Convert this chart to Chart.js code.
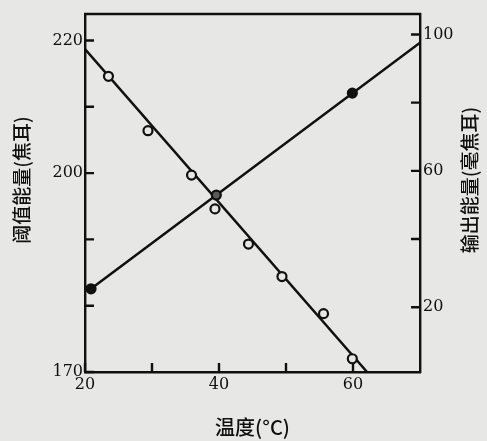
<!DOCTYPE html>
<html>
<head>
<meta charset="utf-8">
<script src="https://cdn.jsdelivr.net/npm/chart.js@4.4.1/dist/chart.umd.min.js"></script>
<style>
  html, body { margin: 0; padding: 0; background: #e7e7e5; }
  #wrap { width: 487px; height: 441px; }
</style>
</head>
<body>
<div id="wrap"><canvas id="chart" width="487" height="441"></canvas></div>
<script>
// 阈值能量 (left axis, 焦耳)
const thrTemps = [23.5, 29.4, 35.9, 39.4, 44.4, 49.4, 55.6, 59.9];
const thrValues = [214.6, 206.4, 199.7, 194.6, 189.3, 184.4, 178.8, 172.0];
// 输出能量 (right axis, 毫焦耳)
const outTemps = [20.9, 39.6, 59.9];
const outValues = [25.4, 52.9, 82.8];
// the two straight lines drawn through the points
const thrLineTemps = [20, 62.1];
const thrLineValues = [218.7, 170];
const outLineTemps = [20.9, 70];
const outLineValues = [25.4, 97.6];

const xTicks = [20, 30, 40, 50, 60];
const xLabels = [20, 40, 60];
const leftTicks = [170, 180, 190, 200, 210, 220];
const leftLabels = [170, 200, 220];
const rightTicks = [20, 40, 60, 80, 100];
const rightLabels = [20, 60, 100];

const ink = '#101010';
const paper = '#e7e7e5';
const numFont = { family: '"DejaVu Serif", serif', size: 16 };
const cjk = '"Noto Sans CJK SC", sans-serif';

const pts = (xs, ys) => xs.map((x, i) => ({ x: x, y: ys[i] }));

// ticks point inward, plus top edge of the frame and the axis titles
const framePlugin = {
  id: 'frame',
  afterDraw(chart) {
    const ctx = chart.ctx;
    const a = chart.chartArea;
    const len = 9;
    const { x, y, y1 } = chart.scales;
    ctx.save();
    ctx.strokeStyle = ink;
    ctx.lineWidth = 2.4;
    ctx.beginPath();
    xTicks.forEach(v => {
      const px = x.getPixelForValue(v);
      ctx.moveTo(px, a.bottom);
      ctx.lineTo(px, a.bottom - len);
    });
    leftTicks.forEach(v => {
      const py = y.getPixelForValue(v);
      ctx.moveTo(a.left, py);
      ctx.lineTo(a.left + len, py);
    });
    rightTicks.forEach(v => {
      const py = y1.getPixelForValue(v);
      ctx.moveTo(a.right, py);
      ctx.lineTo(a.right - len, py);
    });
    ctx.moveTo(a.left - 1, a.top);
    ctx.lineTo(a.right + 1, a.top);
    ctx.stroke();

    ctx.fillStyle = ink;
    ctx.textAlign = 'center';
    ctx.textBaseline = 'middle';
    ctx.font = '500 19px ' + cjk;
    ctx.save();
    ctx.translate(22, 180);
    ctx.rotate(-Math.PI / 2);
    ctx.fillText('阈值能量(焦耳)', 0, 0);
    ctx.restore();
    ctx.save();
    ctx.translate(470, 180);
    ctx.rotate(-Math.PI / 2);
    ctx.fillText('输出能量(毫焦耳)', 0, 0);
    ctx.restore();
    ctx.font = '500 20px ' + cjk;
    ctx.fillText('温度(°C)', (a.left + a.right) / 2, 427);
    ctx.restore();
  }
};

const axisBorder = { display: true, color: ink, width: 2.4 };

new Chart(document.getElementById('chart'), {
  type: 'scatter',
  data: {
    datasets: [
      {
        label: '阈值能量',
        data: pts(thrTemps, thrValues),
        yAxisID: 'y',
        pointRadius: 4.5,
        pointBorderWidth: 2.2,
        pointBorderColor: ink,
        pointBackgroundColor: paper
      },
      {
        label: '输出能量',
        data: pts(outTemps, outValues),
        yAxisID: 'y1',
        pointRadius: 4.5,
        pointBorderWidth: 2.2,
        pointBorderColor: ink,
        pointBackgroundColor: [ink, '#5a5a5a', ink]
      },
      {
        data: pts(thrLineTemps, thrLineValues),
        yAxisID: 'y',
        showLine: true,
        pointRadius: 0,
        borderColor: ink,
        borderWidth: 2.5
      },
      {
        data: pts(outLineTemps, outLineValues),
        yAxisID: 'y1',
        showLine: true,
        pointRadius: 0,
        borderColor: ink,
        borderWidth: 2.5
      }
    ]
  },
  options: {
    responsive: false,
    animation: false,
    devicePixelRatio: 1,
    layout: { padding: { top: 14, left: 0, right: 0, bottom: 0 } },
    plugins: { legend: { display: false }, tooltip: { enabled: false } },
    scales: {
      x: {
        type: 'linear',
        min: 20,
        max: 70,
        afterBuildTicks: s => { s.ticks = xTicks.map(v => ({ value: v })); },
        afterFit: s => { s.height = 69; },
        grid: { display: false, drawTicks: false },
        border: axisBorder,
        ticks: {
          padding: 3,
          autoSkip: false,
          maxRotation: 0,
          color: ink,
          font: numFont,
          callback: v => xLabels.includes(v) ? String(v) : ''
        }
      },
      y: {
        type: 'linear',
        position: 'left',
        min: 170,
        max: 224,
        afterBuildTicks: s => { s.ticks = leftTicks.map(v => ({ value: v })); },
        afterFit: s => { s.width = 85; },
        grid: { display: false, drawTicks: false },
        border: axisBorder,
        ticks: {
          padding: 2,
          autoSkip: false,
          color: ink,
          font: numFont,
          callback: v => leftLabels.includes(v) ? String(v) : ''
        }
      },
      y1: {
        type: 'linear',
        position: 'right',
        min: 1,
        max: 106,
        afterBuildTicks: s => { s.ticks = rightTicks.map(v => ({ value: v })); },
        afterFit: s => { s.width = 67; },
        grid: { display: false, drawTicks: false },
        border: axisBorder,
        ticks: {
          padding: 3,
          autoSkip: false,
          color: ink,
          font: numFont,
          callback: v => rightLabels.includes(v) ? String(v) : ''
        }
      }
    }
  },
  plugins: [framePlugin]
});
</script>
</body>
</html>
